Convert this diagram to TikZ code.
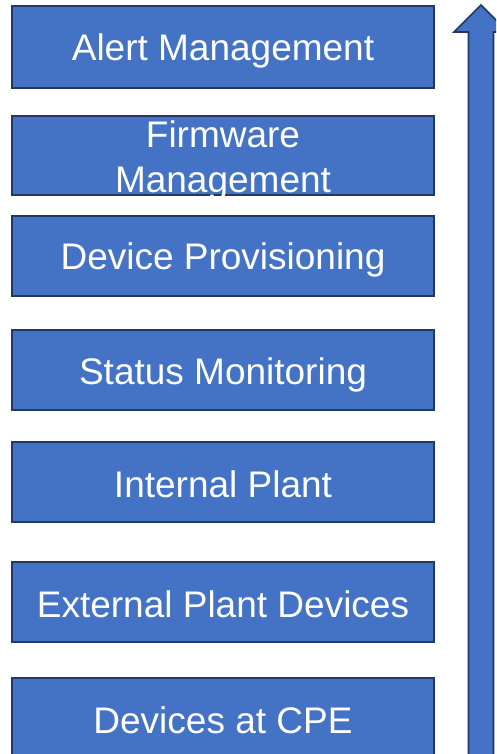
\documentclass[tikz,border=0pt]{standalone}
\usepackage{fontspec}
\setmainfont{Liberation Sans}
\definecolor{boxblue}{HTML}{4472C4}
\definecolor{boxedge}{HTML}{1F3864}
\begin{document}
\begin{tikzpicture}[x=1pt,y=-1pt,
  layer/.style={draw=boxedge,line width=1.6pt,fill=boxblue,minimum width=422pt,inner sep=0pt,outer sep=0pt},
  lbl/.style={anchor=base,text=white,font=\fontsize{37}{45}\selectfont,inner sep=0pt,align=center}]
\useasboundingbox (0,0) rectangle (496,754);
\clip (0,0) rectangle (496,754);
% layers
\node[layer,minimum height=82pt] (b1) at (223,47) {};
\node[layer,minimum height=79pt] (b2) at (223,155.5) {};
\node[layer,minimum height=80pt] (b3) at (223,256) {};
\node[layer,minimum height=80pt] (b4) at (223,370) {};
\node[layer,minimum height=80pt] (b5) at (223,482) {};
\node[layer,minimum height=80pt] (b6) at (223,602) {};
\node[layer,minimum height=80pt] (b7) at (223,718) {};
% labels
\node[lbl] (t1) at (223,61) {Alert Management};
\node[lbl] (t2a) at (223,148) {Firmware};
\node[lbl] (t2b) at (223,193) {Management};
\node[lbl] (t3) at (223,269) {Device Provisioning};
\node[lbl] (t4) at (223,384) {Status Monitoring};
\node[lbl] (t5) at (223,497) {Internal Plant};
\node[lbl] (t6) at (223,617) {External Plant Devices};
\node[lbl] (t7) at (223,733) {Devices at CPE};
% upward arrow
\coordinate (tip) at (481,5);
\draw[draw=boxedge,line width=1.6pt,fill=boxblue,line join=miter]
  (468.5,770) -- (468.5,32) -- (454,32) -- (tip) -- (508,32) -- (493.5,32) -- (493.5,770) -- cycle;
\end{tikzpicture}
\end{document}
